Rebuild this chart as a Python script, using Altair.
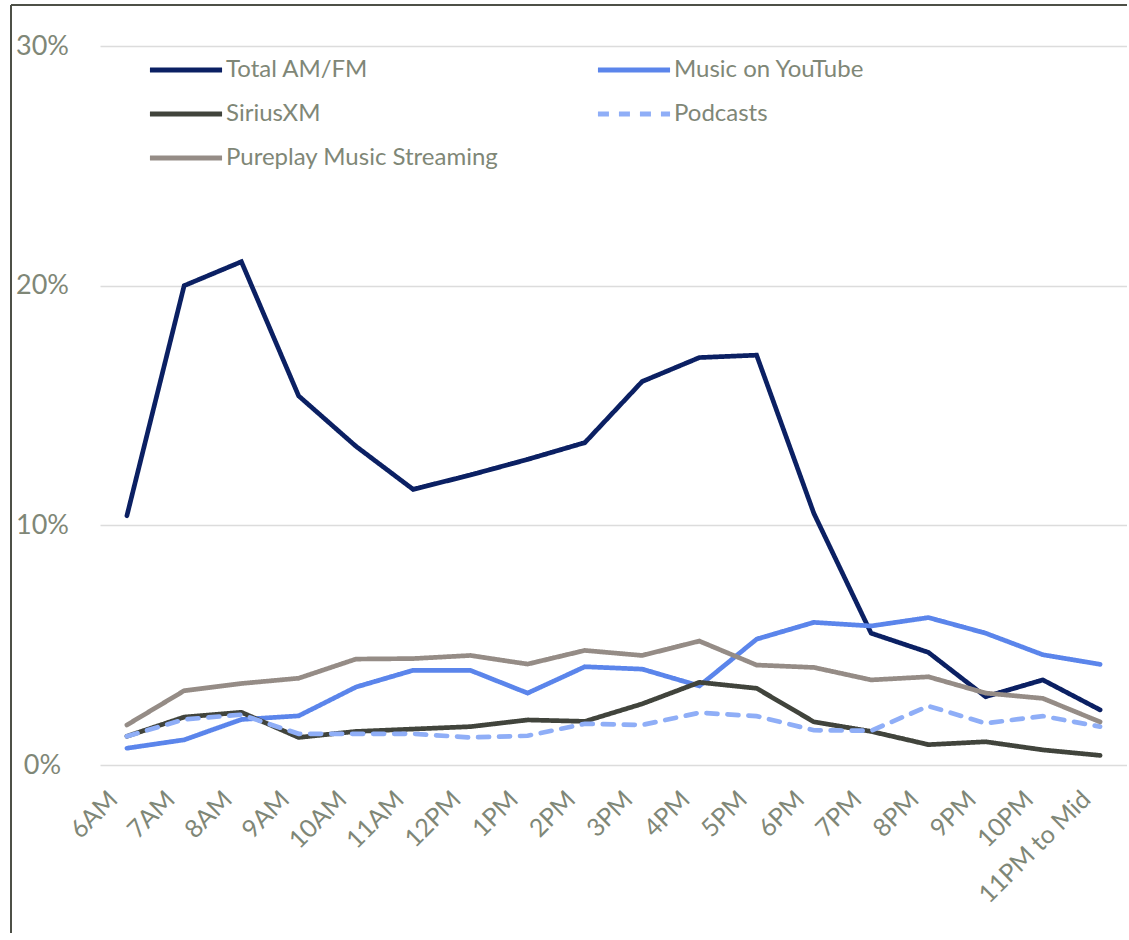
import altair as alt
import pandas as pd

hours = ["6AM", "7AM", "8AM", "9AM", "10AM", "11AM", "12PM", "1PM", "2PM", "3PM",
         "4PM", "5PM", "6PM", "7PM", "8PM", "9PM", "10PM", "11PM to Mid"]

series_names = ["Total AM/FM", "Music on YouTube", "SiriusXM", "Podcasts", "Pureplay Music Streaming"]

total_amfm = [10.4, 20.0, 21.0, 15.4, 13.3, 11.5, 12.1, 12.75, 13.45, 16.0,
              17.0, 17.1, 10.5, 5.5, 4.7, 2.85, 3.55, 2.3]
youtube = [0.7, 1.05, 1.9, 2.05, 3.25, 3.95, 3.95, 3.0, 4.1, 4.0,
           3.3, 5.25, 5.95, 5.8, 6.15, 5.5, 4.6, 4.2]
siriusxm = [1.2, 2.0, 2.2, 1.15, 1.4, 1.5, 1.6, 1.88, 1.82, 2.55,
            3.45, 3.2, 1.8, 1.4, 0.85, 0.97, 0.63, 0.4]
podcasts = [1.2, 1.9, 2.1, 1.3, 1.3, 1.3, 1.15, 1.22, 1.72, 1.67,
            2.18, 2.04, 1.45, 1.43, 2.46, 1.74, 2.04, 1.6]
pureplay = [1.67, 3.1, 3.4, 3.62, 4.42, 4.44, 4.57, 4.21, 4.78, 4.57,
            5.17, 4.17, 4.07, 3.55, 3.68, 3.0, 2.78, 1.8]

colors = ["#0B2063", "#5B85EB", "#41443C", "#8FAEF7", "#958C86"]
dashes = [[1, 0], [1, 0], [1, 0], [11, 10], [1, 0]]

rows = []
for name, vals in zip(series_names, [total_amfm, youtube, siriusxm, podcasts, pureplay]):
    for h, v in zip(hours, vals):
        rows.append({"hour": h, "series": name, "value": v})
df = pd.DataFrame(rows)

TEXT = "#7F8777"
FONT = "Lato"


def make_legend():
    return alt.Legend(orient="none", legendX=47, legendY=3, columns=2,
                      direction="horizontal", columnPadding=88, rowPadding=11,
                      symbolType="M-2,0H2", symbolSize=1300, symbolStrokeWidth=5,
                      symbolOffset=18, labelOffset=19, labelFontSize=24, labelLimit=500,
                      labelColor=TEXT, labelFont=FONT)


lines = alt.Chart(df).mark_line(strokeWidth=4.7, strokeCap="round", strokeJoin="miter").encode(
    x=alt.X("hour:N", sort=hours, title=None,
            scale=alt.Scale(type="point", padding=0.47),
            axis=alt.Axis(labelAngle=-45, labelAlign="right", labelBaseline="middle",
                          labelPadding=30, labelOffset=-14, ticks=False, domain=False,
                          grid=False, labelFontSize=25, labelColor=TEXT, labelFont=FONT)),
    y=alt.Y("value:Q", title=None,
            scale=alt.Scale(domain=[0, 30], nice=False),
            axis=alt.Axis(values=[0, 10, 20, 30], labelExpr="datum.value + '%'",
                          ticks=False, tickSize=0, domain=False, labelAlign="center",
                          labelBaseline="middle", labelPadding=58, labelFontSize=27,
                          labelColor=TEXT, labelFont=FONT, gridColor="#DCDCDC",
                          gridWidth=1.5)),
    color=alt.Color("series:N", sort=series_names, title=None,
                    scale=alt.Scale(domain=series_names, range=colors),
                    legend=make_legend()),
    strokeDash=alt.StrokeDash("series:N", sort=series_names, title=None,
                              scale=alt.Scale(domain=series_names, range=dashes),
                              legend=make_legend()),
)

frame_data = alt.Data(values=[{"k": 1}])
left_border = alt.Chart(frame_data).mark_rule(color="#4D5047", strokeWidth=2).encode(
    x=alt.value(-89), y=alt.value(-41), y2=alt.value(1000))
top_border = alt.Chart(frame_data).mark_rule(color="#4D5047", strokeWidth=2).encode(
    x=alt.value(-89), x2=alt.value(1100), y=alt.value(-41))

chart = alt.layer(lines, left_border, top_border).properties(
    width=1027, height=719,
    padding={"left": 100, "top": 46, "right": 0, "bottom": 168},
    autosize=alt.AutoSizeParams(type="none"),
    background="white",
).configure_view(stroke=None)

chart.save("out.html", embed_options={"renderer": "svg", "actions": False})
